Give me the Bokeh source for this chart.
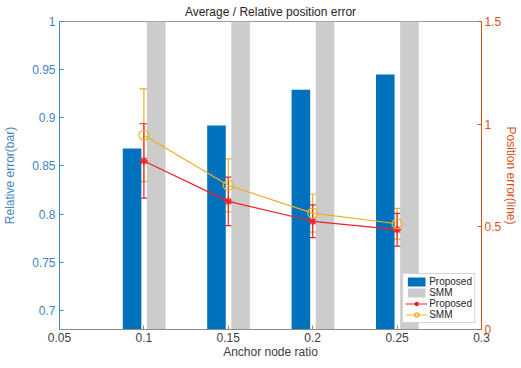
from bokeh.plotting import figure
from bokeh.models import (Range1d, LinearAxis, Legend, LegendItem, FixedTicker,
                          NumeralTickFormatter, ColumnDataSource, Whisker, TeeHead)
from bokeh.transform import dodge
from bokeh.embed import file_html
from bokeh.resources import INLINE

# ---- data ----
ratios = [0.10, 0.15, 0.20, 0.25]
rel_proposed = [0.868, 0.892, 0.929, 0.945]
rel_smm = [1.0, 1.0, 1.0, 1.0]
pos_proposed = [0.821, 0.624, 0.527, 0.486]
pos_proposed_err = [0.181, 0.118, 0.080, 0.080]
pos_smm = [0.946, 0.702, 0.567, 0.515]
pos_smm_err = [0.226, 0.129, 0.093, 0.075]
x_ticks = [0.05, 0.1, 0.15, 0.2, 0.25, 0.3]
left_ticks = [0.7, 0.75, 0.8, 0.85, 0.9, 0.95, 1.0]
right_ticks = [0, 0.5, 1, 1.5]

BLUE = "#0072BD"
GRAY = "#cccccc"
RED = "#f0202a"
YEL = "#EDB120"
LAXIS = "#3f86c0"
RAXIS = "#D95319"
FONT = "Liberation Sans"

src = ColumnDataSource(dict(
    x=ratios, relp=rel_proposed, rels=rel_smm,
    pp=pos_proposed,
    pp_up=[v + e for v, e in zip(pos_proposed, pos_proposed_err)],
    pp_lo=[v - e for v, e in zip(pos_proposed, pos_proposed_err)],
    ps=pos_smm,
    ps_up=[v + e for v, e in zip(pos_smm, pos_smm_err)],
    ps_lo=[v - e for v, e in zip(pos_smm, pos_smm_err)],
))

p = figure(frame_width=422, frame_height=308, x_range=Range1d(0.05, 0.3), y_range=Range1d(0.68, 1.0),
           output_backend="svg", toolbar_location=None,
           min_border_left=0, min_border_right=0, min_border_top=0, min_border_bottom=0)
p.extra_y_ranges = {"right": Range1d(0, 1.5)}

p.title.text = "Average / Relative position error"
p.title.align = "center"
p.title.text_font = FONT
p.title.text_font_size = "12px"
p.title.text_font_style = "normal"
p.title.text_color = "#262626"
p.title.standoff = 5
p.title.offset = 0

p.xgrid.visible = False
p.ygrid.visible = False
p.outline_line_color = "#9a9a9a"
p.background_fill_color = "white"
p.border_fill_color = "white"

b1 = p.vbar(x=dodge("x", -0.007, range=p.x_range), top="relp", bottom=0, width=0.011,
            source=src, fill_color=BLUE, line_color=None)
b2 = p.vbar(x=dodge("x", 0.0073, range=p.x_range), top="rels", bottom=0, width=0.011,
            source=src, fill_color=GRAY, line_color=None)

l1 = p.line("x", "pp", source=src, line_color=RED, line_width=1.2, y_range_name="right")
m1 = p.scatter("x", "pp", source=src, marker="asterisk", size=8, line_color=RED,
               line_width=1.5, y_range_name="right")
l2 = p.line("x", "ps", source=src, line_color=YEL, line_width=1.2, y_range_name="right")
m2 = p.scatter("x", "ps", source=src, marker="circle", size=10, line_color=YEL,
               fill_color=None, line_width=1.2, y_range_name="right")

for up, lo, col in (("ps_up", "ps_lo", YEL), ("pp_up", "pp_lo", RED)):
    w = Whisker(source=src, base="x", upper=up, lower=lo, dimension="height",
                line_color=col, line_width=1.2, y_range_name="right",
                upper_head=TeeHead(size=9, line_color=col, line_width=1.2),
                lower_head=TeeHead(size=9, line_color=col, line_width=1.2))
    p.add_layout(w)

# axes
xa = p.xaxis[0]
xa.ticker = FixedTicker(ticks=x_ticks)
xa.formatter = NumeralTickFormatter(format="0.[00]")
xa.axis_label = "Anchor node ratio"
ya = p.yaxis[0]
ya.ticker = FixedTicker(ticks=left_ticks)
ya.formatter = NumeralTickFormatter(format="0.[00]")
ya.axis_label = "Relative error(bar)"

ra = LinearAxis(y_range_name="right", ticker=FixedTicker(ticks=right_ticks),
                formatter=NumeralTickFormatter(format="0.[0]"),
                axis_label="Position error(line)")
p.add_layout(ra, "right")

for ax, col, lcol in ((xa, "#404040", "#8a8a8a"), (ya, LAXIS, LAXIS), (ra, RAXIS, RAXIS)):
    ax.major_tick_in = 4
    ax.major_tick_out = 0
    ax.minor_tick_line_color = None
    ax.major_tick_line_color = lcol
    ax.axis_line_color = lcol
    ax.major_label_text_color = col
    ax.axis_label_text_color = col
    ax.major_label_text_font = FONT
    ax.axis_label_text_font = FONT
    ax.major_label_text_font_size = "12px"
    ax.axis_label_text_font_size = "12px"
    ax.axis_label_text_font_style = "normal"
    ax.major_label_standoff = 4
    ax.axis_label_standoff = 2
ya.axis_label_standoff = 12
ra.major_label_standoff = 3
ra.axis_label_standoff = 0
xa.major_label_standoff = 3
xa.axis_label_standoff = 0

legend = Legend(items=[
    LegendItem(label="Proposed", renderers=[b1]),
    LegendItem(label="SMM", renderers=[b2]),
    LegendItem(label="Proposed", renderers=[l1, m1]),
    LegendItem(label="SMM", renderers=[l2, m2]),
], location="bottom_right")
legend.label_text_font = FONT
legend.label_text_font_size = "10px"
legend.label_text_color = "#262626"
legend.glyph_width = 22
legend.glyph_height = 11
legend.label_height = 11
legend.label_standoff = 2
legend.spacing = 0
legend.padding = 2
legend.margin = 6
legend.border_line_color = "#aaaaaa"
legend.border_line_width = 1
legend.background_fill_alpha = 1
p.add_layout(legend)

open("out.html", "w").write(file_html(p, INLINE))
